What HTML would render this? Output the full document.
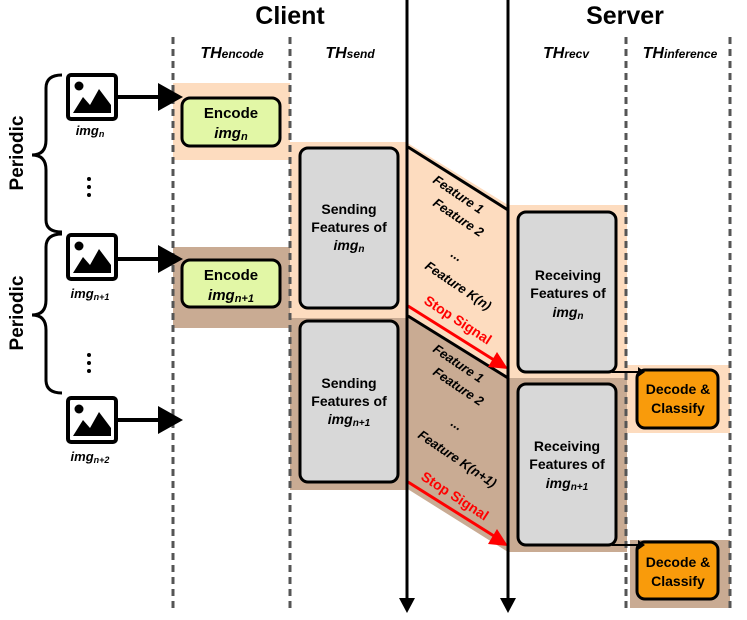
<!DOCTYPE html>
<html><head><meta charset="utf-8"><style>
body{margin:0;background:#fff;}
svg{display:block;font-family:"Liberation Sans",sans-serif;font-weight:bold;}
</style></head><body>
<svg width="747" height="620" viewBox="0 0 747 620" xmlns="http://www.w3.org/2000/svg">
<defs>
<g id="icon">
<rect x="2" y="2" width="48" height="44" rx="3" fill="#fff" stroke="#000" stroke-width="4"/>
<circle cx="13" cy="13" r="4.5" fill="#000"/>
<polygon points="7,40 17,24 24,32 33,16 45,32 45,40" fill="#000"/>
</g>
</defs>
<rect x="173" y="83" width="117" height="77" fill="#FDDCBF"/>
<rect x="173" y="247" width="117" height="81" fill="#C9AB93"/>
<rect x="290" y="142" width="116" height="176" fill="#FDDCBF"/>
<rect x="290" y="318" width="116" height="172" fill="#C9AB93"/>
<polygon points="406,142 508,205 508,378 406,316" fill="#FDDCBF"/>
<polygon points="406,316 508,378 508,552 406,488" fill="#C9AB93"/>
<rect x="508" y="205" width="119" height="173" fill="#FDDCBF"/>
<rect x="508" y="378" width="119" height="174" fill="#C9AB93"/>
<rect x="627" y="365" width="103" height="68" fill="#FDDCBF"/>
<rect x="630" y="540" width="100" height="68" fill="#C9AB93"/>
<g stroke="#555" stroke-width="3" stroke-dasharray="7,5">
<line x1="173" y1="37" x2="173" y2="612"/>
<line x1="290" y1="37" x2="290" y2="612"/>
<line x1="626" y1="37" x2="626" y2="612"/>
<line x1="730" y1="37" x2="730" y2="612"/>
</g>
<text x="290" y="24" font-size="25" text-anchor="middle">Client</text>
<text x="625" y="24" font-size="25" text-anchor="middle">Server</text>
<g font-style="italic" font-size="16" text-anchor="middle">
<text x="232" y="58">TH<tspan font-size="12">encode</tspan></text>
<text x="350" y="58">TH<tspan font-size="12">send</tspan></text>
<text x="566" y="58">TH<tspan font-size="12">recv</tspan></text>
<text x="680" y="58">TH<tspan font-size="12">inference</tspan></text>
</g>
<g fill="none" stroke="#000" stroke-width="3">
<path d="M62,75 Q46,75 46,88 L46,140 Q46,155 32,155 Q46,155 46,170 L46,220 Q46,232 62,232"/>
<path d="M62,234 Q46,234 46,247 L46,300 Q46,315 32,315 Q46,315 46,330 L46,380 Q46,393 62,393"/>
</g>
<text transform="translate(23,153) rotate(-90)" font-size="19" text-anchor="middle">Periodic</text>
<text transform="translate(23,313) rotate(-90)" font-size="19" text-anchor="middle">Periodic</text>
<g fill="#000"><circle cx="89" cy="179" r="2"/><circle cx="89" cy="187" r="2"/><circle cx="89" cy="195" r="2"/>
<circle cx="89" cy="355" r="2"/><circle cx="89" cy="363" r="2"/><circle cx="89" cy="371" r="2"/></g>
<use href="#icon" x="66" y="73"/>
<use href="#icon" x="66" y="233"/>
<use href="#icon" x="66" y="396"/>
<g font-style="italic" font-size="13" text-anchor="middle">
<text x="90" y="135">img<tspan font-size="9" dy="2">n</tspan></text>
<text x="90" y="298">img<tspan font-size="9" dy="2">n+1</tspan></text>
<text x="90" y="461">img<tspan font-size="9" dy="2">n+2</tspan></text>
</g>
<g stroke="#000" stroke-width="4"><line x1="118" y1="97" x2="160" y2="97"/><line x1="118" y1="259" x2="160" y2="259"/><line x1="118" y1="420" x2="160" y2="420"/></g>
<g fill="#000"><polygon points="158,83 183,97 158,111"/><polygon points="158,245 183,259 158,273"/><polygon points="158,406 183,420 158,434"/></g>
<rect x="182" y="98" width="98" height="48" rx="8" fill="#E2F7A6" stroke="#000" stroke-width="3"/>
<rect x="182" y="260" width="98" height="47" rx="8" fill="#E2F7A6" stroke="#000" stroke-width="3"/>
<g font-size="15" text-anchor="middle">
<text x="231" y="118">Encode</text>
<text x="231" y="138" font-style="italic">img<tspan font-size="11" dy="2">n</tspan></text>
<text x="231" y="280">Encode</text>
<text x="231" y="300" font-style="italic">img<tspan font-size="11" dy="2">n+1</tspan></text>
</g>
<rect x="300" y="148" width="98" height="160" rx="8" fill="#D8D8D8" stroke="#000" stroke-width="3"/>
<rect x="300" y="321" width="98" height="161" rx="8" fill="#D8D8D8" stroke="#000" stroke-width="3"/>
<g font-size="14" text-anchor="middle">
<text x="349" y="214">Sending</text><text x="349" y="232">Features of</text>
<text x="349" y="250" font-style="italic">img<tspan font-size="10" dy="2">n</tspan></text>
<text x="349" y="388">Sending</text><text x="349" y="406">Features of</text>
<text x="349" y="424" font-style="italic">img<tspan font-size="10" dy="2">n+1</tspan></text>
</g>
<rect x="518" y="212" width="98" height="160" rx="8" fill="#D8D8D8" stroke="#000" stroke-width="3"/>
<rect x="518" y="384" width="98" height="161" rx="8" fill="#D8D8D8" stroke="#000" stroke-width="3"/>
<g font-size="14" text-anchor="middle">
<text x="568" y="280">Receiving</text><text x="568" y="298">Features of</text>
<text x="568" y="317" font-style="italic">img<tspan font-size="10" dy="2">n</tspan></text>
<text x="567" y="451">Receiving</text><text x="567" y="469">Features of</text>
<text x="567" y="488" font-style="italic">img<tspan font-size="10" dy="2">n+1</tspan></text>
</g>
<rect x="637" y="370" width="81" height="58" rx="8" fill="#F99B0B" stroke="#000" stroke-width="3"/>
<rect x="637" y="542" width="81" height="57" rx="8" fill="#F99B0B" stroke="#000" stroke-width="3"/>
<g font-size="14" text-anchor="middle">
<text x="678" y="394">Decode &amp;</text><text x="678" y="413">Classify</text>
<text x="678" y="567">Decode &amp;</text><text x="678" y="586">Classify</text>
</g>
<g stroke="#000" stroke-width="2" fill="none"><path d="M612,372 L640,372"/><path d="M612,545 L640,545"/></g>
<g fill="#000"><polygon points="638,367 645,372 638,377"/><polygon points="638,540 645,545 638,550"/></g>
<g stroke="#000" stroke-width="3"><line x1="408" y1="147" x2="508" y2="210"/><line x1="408" y1="316" x2="508" y2="378"/></g>
<g stroke="#f00" stroke-width="3"><line x1="408" y1="306" x2="494" y2="360"/><line x1="408" y1="482" x2="494" y2="536"/></g>
<g fill="#f00"><polygon points="508,369 488,367 497,352"/><polygon points="508,546 488,544 497,529"/></g>
<g font-size="14" fill="#f00">
<text transform="translate(423,303) rotate(33)">Stop Signal</text>
<text transform="translate(420,479) rotate(33)">Stop Signal</text>
</g>
<g font-size="13" font-style="italic">
<text transform="translate(432,182) rotate(34)">Feature 1</text>
<text transform="translate(432,205) rotate(34)">Feature 2</text>
<text transform="translate(450,256) rotate(34)">...</text>
<text transform="translate(424,268) rotate(34)">Feature K(n)</text>
<text transform="translate(432,351) rotate(34)">Feature 1</text>
<text transform="translate(432,374) rotate(34)">Feature 2</text>
<text transform="translate(450,425) rotate(34)">...</text>
<text transform="translate(417,437) rotate(34)">Feature K(n+1)</text>
</g>
<g stroke="#000" stroke-width="3"><line x1="407" y1="0" x2="407" y2="600"/><line x1="508" y1="0" x2="508" y2="600"/></g>
<g fill="#000"><polygon points="399,598 415,598 407,613"/><polygon points="500,598 516,598 508,613"/></g>
</svg>
</body></html>
